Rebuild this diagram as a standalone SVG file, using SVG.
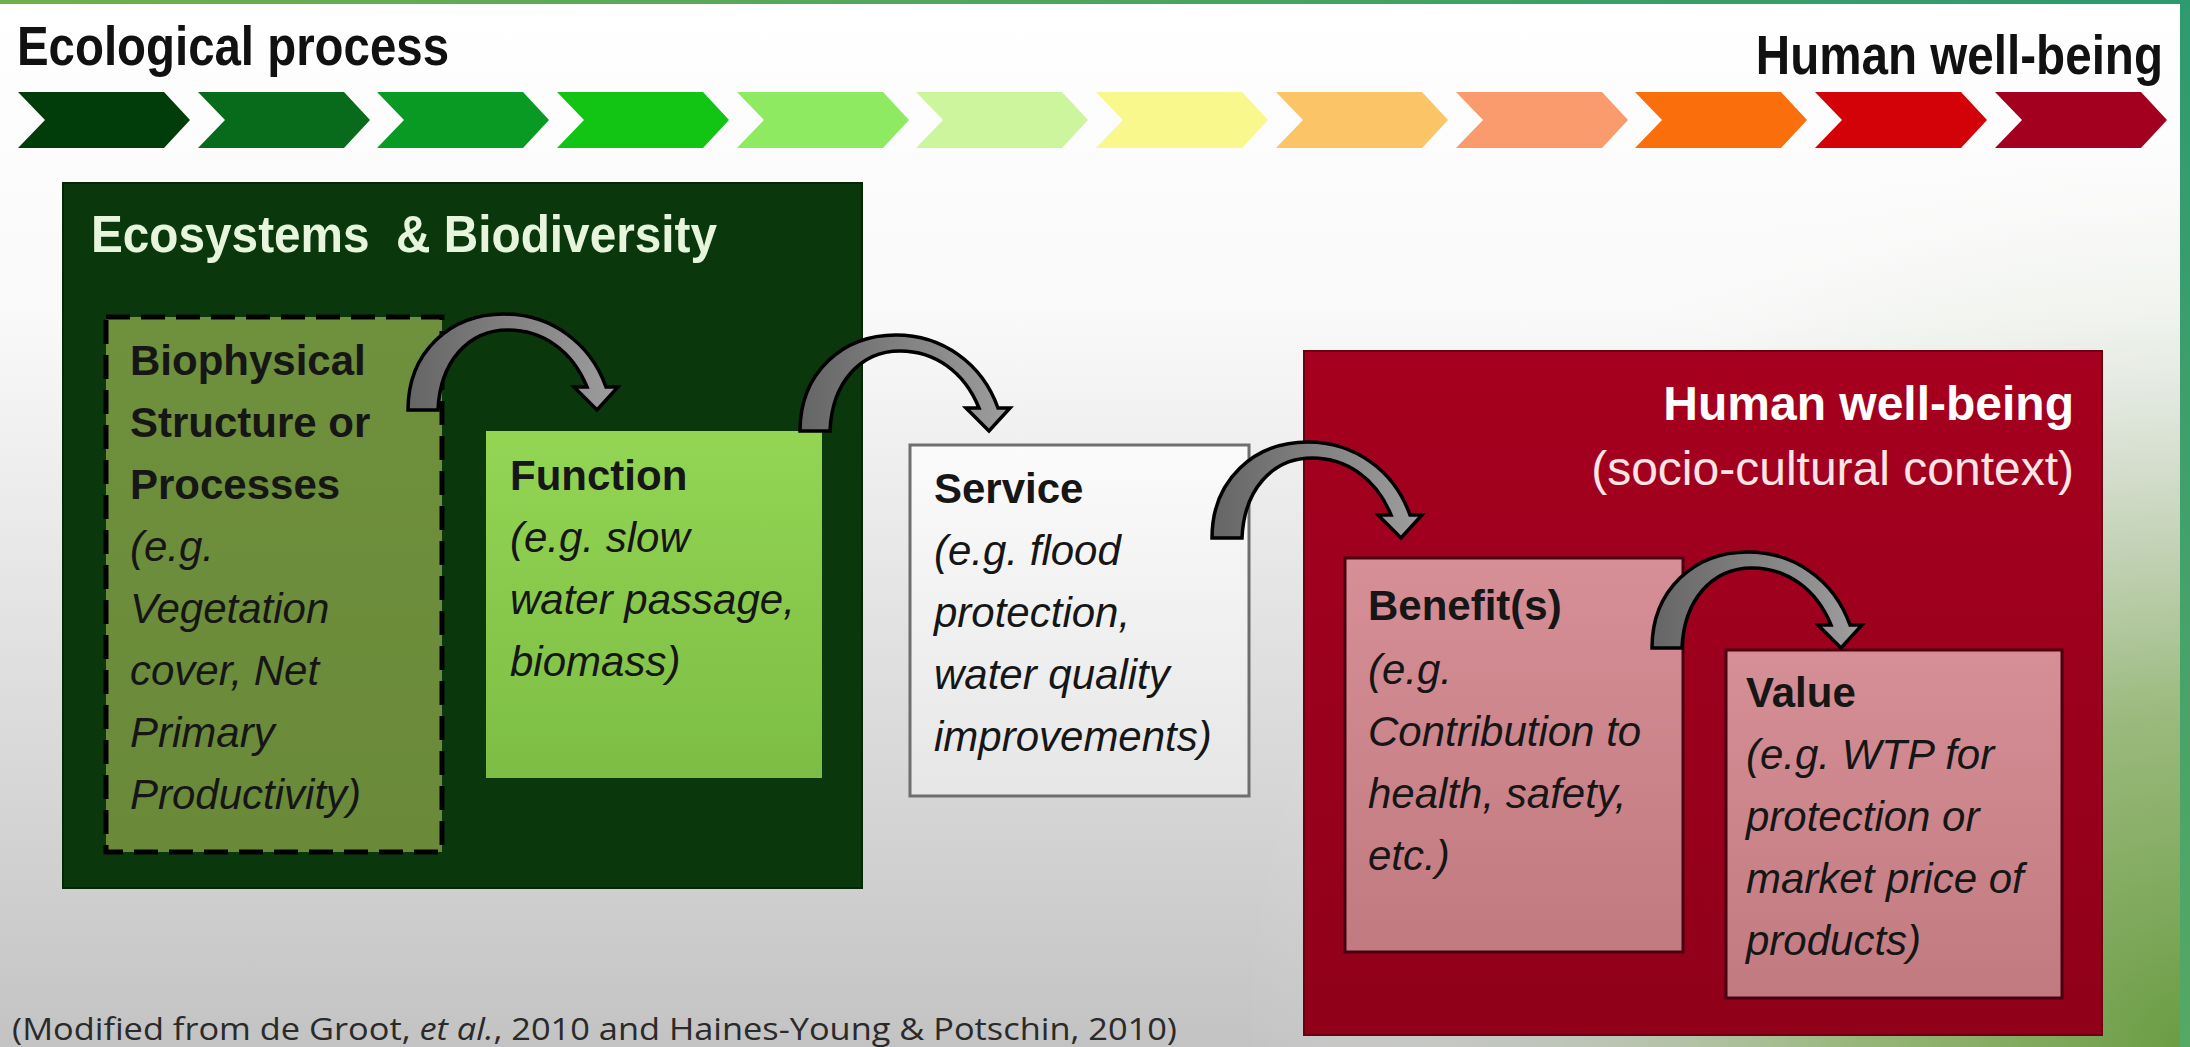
<svg xmlns="http://www.w3.org/2000/svg" width="2190" height="1047" viewBox="0 0 2190 1047">
<defs>
<linearGradient id="bg" x1="0" y1="0" x2="0" y2="1">
<stop offset="0" stop-color="#ffffff"/>
<stop offset="0.3" stop-color="#f9f9f9"/>
<stop offset="1" stop-color="#c3c3c3"/>
</linearGradient>
<radialGradient id="bggreen" cx="2190" cy="1047" r="950" gradientUnits="userSpaceOnUse">
<stop offset="0" stop-color="#6a9c42" stop-opacity="1"/>
<stop offset="0.35" stop-color="#8fb46c" stop-opacity="0.85"/>
<stop offset="0.7" stop-color="#b8ccaa" stop-opacity="0.25"/>
<stop offset="1" stop-color="#ffffff" stop-opacity="0"/>
</radialGradient>
<linearGradient id="topline" x1="0" y1="0" x2="1" y2="0">
<stop offset="0" stop-color="#6fb04c"/>
<stop offset="1" stop-color="#2a9a70"/>
</linearGradient>
<linearGradient id="rightstrip" x1="0" y1="0" x2="0" y2="1">
<stop offset="0" stop-color="#2e9a70"/>
<stop offset="1" stop-color="#55a865"/>
</linearGradient>
<linearGradient id="funcFill" x1="0" y1="0" x2="0" y2="1">
<stop offset="0" stop-color="#93d553"/>
<stop offset="1" stop-color="#7dbd45"/>
</linearGradient>
<linearGradient id="bioFill" x1="0" y1="0" x2="0" y2="1">
<stop offset="0" stop-color="#6f903c"/>
<stop offset="1" stop-color="#6a8a3a"/>
</linearGradient>
<linearGradient id="servFill" x1="0" y1="0" x2="0" y2="1">
<stop offset="0" stop-color="#fbfbfb"/>
<stop offset="1" stop-color="#e6e6e6"/>
</linearGradient>
<linearGradient id="pinkFill" x1="0" y1="0" x2="0" y2="1">
<stop offset="0" stop-color="#d68f96"/>
<stop offset="1" stop-color="#c27a81"/>
</linearGradient>
<linearGradient id="hwbFill" x1="0" y1="0" x2="0" y2="1">
<stop offset="0" stop-color="#a6001f"/>
<stop offset="1" stop-color="#900019"/>
</linearGradient>
<linearGradient id="arrowFill" x1="0" y1="0" x2="1" y2="0">
<stop offset="0" stop-color="#656565"/>
<stop offset="1" stop-color="#9e9e9e"/>
</linearGradient>
<path id="curvedArrow" d="M0,0 C0,-58 42,-96 96,-96 C142,-96 182,-68 198,-23 L210,-23 L189,0 L166,-23 L179,-23 C164,-60 134,-80 100,-80 C60,-80 32,-48 30,0 Z"/>
<path id="chev" d="M0,92 L146,92 L172,120 L146,148 L0,148 L27,120 Z"/>
</defs>
<style>
.t{font-family:"Liberation Sans",Arial,sans-serif;fill:#161616;font-size:42px}
.b{font-weight:bold}
.i{font-style:italic}
.title{font-family:"Liberation Sans",Arial,sans-serif;font-weight:bold}
.arrow{fill:url(#arrowFill);stroke:#000;stroke-width:3.5;stroke-linejoin:miter}
</style>

<!-- background -->
<rect x="0" y="0" width="2190" height="1047" fill="url(#bg)"/>
<rect x="0" y="0" width="2190" height="1047" fill="url(#bggreen)"/>
<rect x="0" y="0" width="2190" height="4" fill="url(#topline)"/>
<rect x="2180" y="0" width="10" height="1047" fill="url(#rightstrip)"/>

<!-- header -->
<g id="header">
<text class="title" x="17" y="65" font-size="56" fill="#111" textLength="432" lengthAdjust="spacingAndGlyphs">Ecological process</text>
<text class="title" transform="translate(2163,74) scale(0.85,1)" x="0" y="0" font-size="56" fill="#111" text-anchor="end">Human well-being</text>
</g>

<!-- chevron scale -->
<g id="chevrons">
<use href="#chev" x="18" fill="#013d0a"/>
<use href="#chev" x="198" fill="#076b1b"/>
<use href="#chev" x="377" fill="#089a22"/>
<use href="#chev" x="557" fill="#12c414"/>
<use href="#chev" x="737" fill="#8eea60"/>
<use href="#chev" x="916" fill="#cdf59e"/>
<use href="#chev" x="1096" fill="#f9f88c"/>
<use href="#chev" x="1276" fill="#fbc466"/>
<use href="#chev" x="1456" fill="#f99b6c"/>
<use href="#chev" x="1635" fill="#fa6e0c"/>
<use href="#chev" x="1815" fill="#d20208"/>
<use href="#chev" x="1995" fill="#a30020"/>
</g>

<!-- Ecosystems & Biodiversity -->
<g id="ecosystems">
<rect x="63" y="183" width="799" height="705" fill="#0a380c" stroke="#062606" stroke-width="2"/>
<text class="title" x="91" y="252" font-size="52" fill="#e6f5dc" textLength="626" lengthAdjust="spacingAndGlyphs">Ecosystems&#160; &amp; Biodiversity</text>
</g>

<g id="biophysical">
<rect x="106" y="317" width="336" height="535" fill="url(#bioFill)" stroke="#000" stroke-width="5" stroke-dasharray="24 11"/>
<text class="t b" x="130" y="375">Biophysical</text>
<text class="t b" x="130" y="437">Structure or</text>
<text class="t b" x="130" y="499">Processes</text>
<text class="t i" x="130" y="561">(e.g.</text>
<text class="t i" x="130" y="623">Vegetation</text>
<text class="t i" x="130" y="685">cover, Net</text>
<text class="t i" x="130" y="747">Primary</text>
<text class="t i" x="130" y="809">Productivity)</text>
</g>

<g id="function">
<rect x="486" y="431" width="336" height="347" fill="url(#funcFill)"/>
<text class="t b" x="510" y="490">Function</text>
<text class="t i" x="510" y="552">(e.g. slow</text>
<text class="t i" x="510" y="614">water passage,</text>
<text class="t i" x="510" y="676">biomass)</text>
</g>

<g id="service">
<rect x="910" y="445" width="339" height="351" fill="url(#servFill)" stroke="#6e6e6e" stroke-width="3"/>
<text class="t b" x="934" y="503">Service</text>
<text class="t i" x="934" y="565">(e.g. flood</text>
<text class="t i" x="934" y="627">protection,</text>
<text class="t i" x="934" y="689">water quality</text>
<text class="t i" x="934" y="751">improvements)</text>
</g>

<!-- Human well-being -->
<g id="human-well-being">
<rect x="1304" y="351" width="798" height="684" fill="url(#hwbFill)" stroke="#6a0012" stroke-width="2"/>
<text class="title" x="2074" y="420" font-size="48" fill="#ffffff" text-anchor="end">Human well-being</text>
<text x="2074" y="485" font-family="Liberation Sans, Arial, sans-serif" font-size="48" fill="#fbe4e6" text-anchor="end">(socio-cultural context)</text>
</g>

<g id="benefits">
<rect x="1345" y="558" width="338" height="394" fill="url(#pinkFill)" stroke="#4a000e" stroke-width="3"/>
<text class="t b" x="1368" y="620">Benefit(s)</text>
<text class="t i" x="1368" y="684">(e.g.</text>
<text class="t i" x="1368" y="746">Contribution to</text>
<text class="t i" x="1368" y="808">health, safety,</text>
<text class="t i" x="1368" y="870">etc.)</text>
</g>

<g id="value">
<rect x="1726" y="650" width="336" height="348" fill="url(#pinkFill)" stroke="#4a000e" stroke-width="3"/>
<text class="t b" x="1746" y="707">Value</text>
<text class="t i" x="1746" y="769">(e.g. WTP for</text>
<text class="t i" x="1746" y="831">protection or</text>
<text class="t i" x="1746" y="893">market price of</text>
<text class="t i" x="1746" y="955">products)</text>
</g>

<!-- connectors -->
<g id="connectors">
<use href="#curvedArrow" class="arrow" x="408" y="410"/>
<use href="#curvedArrow" class="arrow" x="800" y="431"/>
<use href="#curvedArrow" class="arrow" x="1212" y="538"/>
<use href="#curvedArrow" class="arrow" x="1652" y="648"/>
</g>

<!-- footer -->
<g id="footer">
<text x="12" y="1040" font-family="Open Sans, Noto Sans, sans-serif" font-size="31" fill="#2a2a2a" textLength="1165" lengthAdjust="spacingAndGlyphs">(Modified from de Groot, <tspan font-style="italic">et al.</tspan>, 2010 and Haines-Young &amp; Potschin, 2010)</text>
</g>
</svg>
